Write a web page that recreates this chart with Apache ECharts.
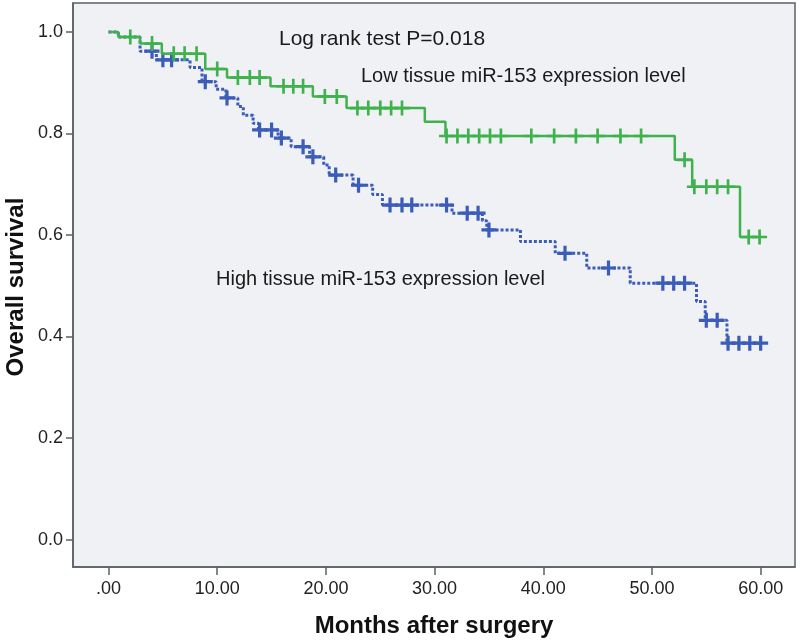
<!DOCTYPE html>
<html>
<head>
<meta charset="utf-8">
<script src="https://cdn.jsdelivr.net/npm/echarts@6/dist/echarts.min.js"></script>
<style>
html,body{margin:0;padding:0;background:#fff;}
#chart{width:800px;height:643px;}
</style>
</head>
<body>
<div id="chart"></div>
<script>
// Low tissue miR-153 expression (green): event times and survival after each event
const lowTimes  = [0, 0.9, 2.9, 4.9, 8.9, 10.9, 14.9, 18.8, 21.9, 29.1, 31.0, 52.1, 53.7, 58.1, 60];
const lowSurv   = [1.0, 0.99, 0.977, 0.957, 0.927, 0.91, 0.893, 0.873, 0.85, 0.823, 0.795, 0.748, 0.695, 0.596, 0.596];
const lowCensor = [2.0, 4.0, 6.0, 7.0, 8.1, 10.0, 11.9, 13.0, 13.9, 16.1, 17.0, 17.9, 19.9, 21.0,
                   22.9, 23.9, 25.0, 26.0, 27.0, 31.1, 32.1, 33.1, 34.1, 35.1, 36.1,
                   38.9, 41.0, 43.0, 45.0, 47.1, 49.0, 53.0, 53.9, 55.0, 56.0, 57.0, 58.9, 59.9];

// High tissue miR-153 expression (blue)
const highTimes  = [0, 0.9, 2.9, 4.4, 7.5, 8.6, 9.9, 10.8, 11.9, 12.4, 13.3, 13.8, 15.6, 16.8, 18.5, 19.8, 20.3,
                    22.5, 24.3, 25.2, 31.6, 34.4, 34.8, 37.9, 41.1, 44.0, 48.0, 54.1, 54.9, 56.9, 60];
const highSurv   = [1.0, 0.99, 0.962, 0.945, 0.93, 0.902, 0.887, 0.87, 0.853, 0.836, 0.82, 0.807, 0.791, 0.774, 0.754, 0.738, 0.718,
                    0.698, 0.68, 0.659, 0.643, 0.628, 0.61, 0.587, 0.564, 0.535, 0.505, 0.469, 0.432, 0.387, 0.387];
const highCensor = [4.0, 5.0, 5.8, 8.9, 10.9, 13.9, 15.0, 15.9, 17.9, 18.8, 20.9, 23.0, 25.9, 27.0, 27.9, 31.1,
                    33.0, 34.0, 35.0, 42.0, 46.0, 51.0, 52.0, 53.0, 55.0, 56.0, 57.0, 58.0, 59.0, 60.0];

const xTicks = [0, 10, 20, 30, 40, 50, 60];
const yTicks = [0, 0.2, 0.4, 0.6, 0.8, 1.0];

const lowColor = '#3fb24e';
const highColor = '#3b5cb8';

function zip(t, s) { return t.map((v, i) => [v, s[i]]); }
function survAt(t, times, surv) {
  let v = surv[0];
  for (let i = 0; i < times.length; i++) { if (times[i] <= t) v = surv[i]; }
  return v;
}
function censorPts(c, times, surv) { return c.map(t => [t, survAt(t, times, surv)]); }

const crossBold = 'path://M5.5,0h3v5.5h5.5v3h-5.5v5.5h-3v-5.5h-5.5v-3h5.5z';
const crossThin = 'path://M5.75,0h2.5v5.75h5.75v2.5h-5.75v5.75h-2.5v-5.75h-5.75v-2.5h5.75z';
const axisColor = '#596065';
const labelFont = 'Liberation Sans, Arial, sans-serif';

const chart = echarts.init(document.getElementById('chart'), null, {renderer: 'canvas'});
chart.setOption({
  animation: false,
  backgroundColor: '#ffffff',
  grid: {
    left: 73, right: 5, top: 3, bottom: 76,
    show: true, backgroundColor: '#f0f1f4', borderColor: axisColor, borderWidth: 1.5
  },
  xAxis: {
    type: 'value', min: -3.27, max: 63.16,
    splitLine: {show: false},
    axisLine: {show: true, onZero: false, lineStyle: {color: axisColor, width: 1.5}},
    axisTick: {show: true, length: 8, customValues: xTicks, lineStyle: {color: axisColor, width: 1.5}},
    axisLabel: {
      customValues: xTicks, margin: 13, color: '#222',
      fontFamily: labelFont, fontSize: 18,
      formatter: v => (v === 0 ? '.00' : v.toFixed(2))
    }
  },
  yAxis: {
    type: 'value', min: -0.054, max: 1.057,
    splitLine: {show: false},
    axisLine: {show: true, onZero: false, lineStyle: {color: axisColor, width: 1.5}},
    axisTick: {show: true, length: 7, customValues: yTicks, lineStyle: {color: axisColor, width: 1.5}},
    axisLabel: {
      customValues: yTicks, margin: 10, color: '#222',
      fontFamily: labelFont, fontSize: 18,
      formatter: v => v.toFixed(1)
    }
  },
  series: [
    {
      name: 'High', type: 'line', step: 'end', showSymbol: false,
      data: zip(highTimes, highSurv),
      lineStyle: {color: highColor, width: 3, type: [3, 2]}, z: 2
    },
    {
      name: 'High censored', type: 'scatter', symbol: crossBold, symbolSize: 15,
      data: censorPts(highCensor, highTimes, highSurv),
      itemStyle: {color: highColor, opacity: 1}, z: 3
    },
    {
      name: 'Low', type: 'line', step: 'end', showSymbol: false,
      data: zip(lowTimes, lowSurv),
      lineStyle: {color: lowColor, width: 2.5}, z: 4
    },
    {
      name: 'Low censored', type: 'scatter', symbol: crossThin, symbolSize: 15,
      data: censorPts(lowCensor, lowTimes, lowSurv),
      itemStyle: {color: lowColor, opacity: 1}, z: 5
    }
  ],
  graphic: [
    {type: 'text', left: 279, top: 29, style: {text: 'Log rank test P=0.018', font: '21px "Liberation Sans", Arial, sans-serif', fill: '#1a1a1a'}},
    {type: 'text', left: 361, top: 66, style: {text: 'Low tissue miR-153 expression level', font: '20px "Liberation Sans", Arial, sans-serif', fill: '#1a1a1a'}},
    {type: 'text', left: 216, top: 269, style: {text: 'High tissue miR-153 expression level', font: '20px "Liberation Sans", Arial, sans-serif', fill: '#1a1a1a'}},
    {type: 'text', x: 434, y: 626, style: {text: 'Months after surgery', font: 'bold 24px "Liberation Sans", Arial, sans-serif', fill: '#111', align: 'center', verticalAlign: 'middle'}},
    {type: 'text', x: 16, y: 287, rotation: Math.PI / 2, style: {text: 'Overall survival', font: 'bold 24px "Liberation Sans", Arial, sans-serif', fill: '#111', align: 'center', verticalAlign: 'middle'}}
  ]
});
</script>
</body>
</html>
